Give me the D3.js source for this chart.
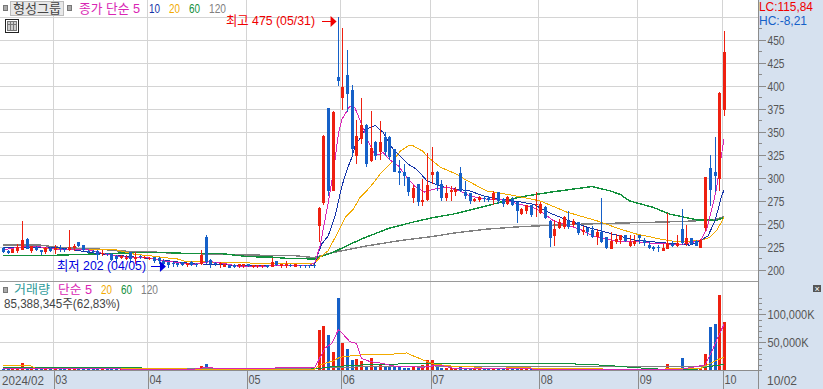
<!DOCTYPE html>
<html lang="ko">
<head>
<meta charset="utf-8">
<script src="https://cdn.jsdelivr.net/npm/d3@7"></script>
<style>
    html, body { margin: 0; padding: 0; background: #fff; overflow: hidden; }
    svg { display: block; }
    text { font-family: "Liberation Sans", "Noto Sans CJK KR", sans-serif; font-size: 13px; }
    .mark { shape-rendering: crispEdges; }
</style>
</head>
<body>
<div id="chart"></div>
<script>
// Daily candles. Index 0 is the first day on the chart.
const opens = [224,221,218,220.5,222,234,221,225.5,221.5,220,224,221.5,223.5,223,222,224,230,227,221,221,220.5,218,218,217.5,215.5,213,212,219.5,211.5,215,212.5,211.5,214,213,210,208.5,207.3,207.3,208.7,205,209,206,206,236,211,208,206.5,203.7,205,205.5,204,204.5,206,203.7,204,204,205,203.7,209.5,204.5,204.5,205.5,203.7,205,205,205,205,248,272.5,375.7,286.3,410,387,412,396,323.4,341.8,358,318,339.6,327.7,345,345,331,308,306,300.7,278,293,273.6,275.8,302.8,307,293,278,284.5,284.8,305,284.5,283.4,275,276,278,278,276,284.5,277,271.5,277,273.6,260.7,264,270.4,270.7,261.7,268,253.5,236.5,245.5,246.6,253.5,249,251.7,241.5,245.5,243.3,236,241,235.5,223,230.7,233,238,226.4,228,238,232.5,227,225.3,224.6,221,223,228,225.7,244.4,228,234.7,232,224.2,245.5,310.4,306,298.5,373.5];
const closes = [220,218,223,225,233,223,226,222,219.5,224,220.5,224,223,222,224.5,226,226,222,220.5,220.5,216,218.5,217,210.5,211.5,215,213,211.5,214,214,214,213,209.5,210,207,205,206,205,205.5,207.3,205.5,205,216,209,206,206,208,206,202.6,203,206,206,204.5,205,205,205,203.7,209,205,206,206,204,206,204,204.5,204,204.5,267,346,285.5,372,405.6,399,391.6,331,346,358,314.8,333,323.4,339.6,327.7,322.3,307,305,301.8,284.5,288.8,273.6,275.8,292,307,292,278,283.4,286.6,287.7,285.5,280,275,277.6,279,277,276,283.4,275,271.5,279,270.4,264,266,270.4,259.6,272,271.5,256.3,234.3,244.4,252.3,258,246.3,253,239.8,243,241,235.5,241.5,230,223.5,232,233.6,237.5,231,230,231,235,229.3,223.5,223,224,224,229.3,225.7,229.3,229,234.4,228,226.4,232.5,300.7,287,301.8,392.7,437];
const highs = [225.5,222,223,228,253.6,235,226.5,226,222,224.5,225,227,227,224,243,228,230.5,227.5,222,222,221.5,222,218.5,219,216.5,216,216,220,219.5,216,215,214,214.5,214,212,209,208.5,208,209,208,210,207.5,222,238,211.5,209,209,206.5,205.5,206,206.5,207,206.5,205.5,205.5,205.5,205.5,212.7,210,207,210,206,206.5,205.5,205.5,205.5,205.5,268,347,376.5,372.5,475,463,439,401,363.4,387,359,373,340,362,349.4,345.5,331.5,320,314.8,301,292,293.5,298.5,326.6,334,307.5,297.4,292,291,290,311.5,296.4,284,278,280.5,280.5,280.5,286,285,278,280,279,274,267,271,271,284.5,273.6,269,254,254,255,258.5,264,255,252,248,246,248,244.4,278,236,241,239,238.5,238.5,237.5,237.5,238.5,235,230.7,226,227,228,262,232,237.5,266,249,235,232.5,233.5,301,324.5,344,393,460];
const lows = [218,217,218,219,221.5,222.5,218.5,221,216,217,219.5,217.5,219.5,219.5,221,220.5,225,220.5,218.5,219,210.5,215.5,215.5,209.5,208,212,210.5,208,206,212,211.5,210.5,208,207,205,202,203,203,204.5,203.7,204,203,205.5,207,202.5,204.5,202.6,203,202.3,202.5,202,202,203.5,202,202,202,202.6,203,204.5,202.5,202.5,203,203.2,202.5,202.5,202.5,202.5,230,270.5,280,285.5,399.5,373.5,372,323.4,314.8,336.4,311.5,317,319,320,323.4,320,306.5,292,291,280,272.5,269.3,269.3,275,293,285.5,275,274.7,275,280.5,285,277,271.5,273.6,274,273.6,273.6,271,271.5,268,270.4,270,251,260,260.7,257.7,257.4,260.7,255,225,225.7,245,244.4,244.4,246.6,238,238,237,235,227,229.5,222.8,222.5,228,228,230.5,225,226.4,228,226.4,223,220.6,219.5,220.3,222.5,225,225,227,226.4,227,225.7,223.5,242.5,269.6,284.5,286,367.8];
const volumes = [3000,2500,2500,3000,13000,4700,3500,2500,2000,2500,2000,2500,2000,2000,2500,2000,2500,2000,1500,1500,2000,1500,1500,2000,1500,1500,1500,2000,1500,1500,1500,1500,1500,1500,1500,1500,1200,1200,1200,1200,1500,2000,7700,11000,4000,2500,2500,2000,2000,2000,1500,1500,1200,1200,1200,1200,1000,2000,2000,1200,1200,1000,1000,1000,1000,1000,1000,72000,79000,63000,32700,129000,48700,38000,18400,20000,16500,7700,22000,7700,10100,5950,5950,7700,5950,4760,4760,5950,4760,9500,18400,18400,5350,4160,4760,4160,3570,6500,3570,3000,3000,2500,2500,3000,2500,2500,2000,6000,2000,2500,2500,2000,2000,2000,2000,2500,3000,2500,2000,2000,2000,2000,2000,2000,2000,2000,2000,2500,2000,2000,1500,1500,1500,1500,1500,1500,1500,1500,1500,1500,2000,11000,2500,2500,22000,5000,3000,2500,3000,29000,77000,83000,134500,85388];

// Moving averages as [day index, price] points
const ma5 = [[0,222],[5,226],[8,225],[12,222],[18,222],[22,217],[26,214],[30,214],[34,210],[40,206],[44,209],[47,207],[50,204],[54,204],[60,205],[65,204.5],[66.2,208.4],[67.3,226.4],[69,273],[70.1,306],[71.2,349],[71.9,363.4],[73.6,378],[74.7,376],[76,360],[77.5,340],[79,324],[80.7,327.6],[82,320],[83.9,313],[85.7,300.7],[87.4,291],[89.5,284.5],[91.3,287.7],[94.2,290],[97,286],[99,280.5],[102.6,277],[105.5,277],[108,273.6],[112.5,268],[115,260.7],[116.8,253.5],[119.6,248.7],[122.4,244.4],[125.3,236.6],[128,233.6],[131,231],[134.5,230.6],[138,229],[141.5,228],[144.3,228],[148,232],[149.3,244],[150.4,266],[151.4,287.7],[152.3,320],[153,342]];
const ma10 = [[0,224],[12,224],[20,218],[30,213],[40,207],[50,205],[66,205],[67.6,228],[69,237],[70.5,259],[71.9,291],[73,309],[74,322],[74.7,334.6],[75.6,342],[76.8,352.6],[79,357],[80.7,349.4],[82.8,331],[85,320],[86,315],[87.8,309.3],[90,296.7],[92.8,291],[96.3,287.7],[99,286],[102,280.5],[105.5,277],[109.7,274],[112.5,271.5],[116,262],[119.6,254.5],[123.9,246.6],[128,241],[131,236.6],[134.5,232],[138,230.6],[141.5,229],[145.8,227],[148,232],[149.6,237],[151.1,253.5],[152.5,280.5],[153,287]];
const ma20 = [[8,224],[12,223],[20,222],[24,222],[28,217],[32,215],[34,213.6],[37,212],[39,208.7],[44,208.7],[50,208],[56,207],[66,206.5],[67.3,214],[69,221],[70.5,235.6],[72.6,257],[74.3,266],[75.8,279],[77.9,290],[80,304],[82.5,317],[84.3,329],[86,335],[87,335],[89.1,329],[90.3,322],[92.8,311.7],[96.3,304],[98,298.5],[102.6,286],[108.3,281],[114,275],[119.6,263],[126,253.5],[131,244.4],[134.5,239],[139.5,233.6],[143,230.6],[148,232],[150,235.4],[151.4,242.6],[153,257]];
const ma60 = [[0,216],[11,216],[29,219],[34,219],[39,218],[46,218],[52,214.5],[57,214],[60,212.7],[66,212],[70,219],[73.6,228],[77,235.6],[82,245.5],[87,252],[91.3,257],[95.5,260.7],[102.6,269.6],[109.7,279.4],[116.8,285],[125,290.7],[128.8,286],[131,282],[133,275],[138,268],[141.5,260.7],[147.2,254.5],[151.4,254],[153,257]];
const ma120 = [[0,227],[8,227],[12,224.5],[21,222.5],[25,220.5],[31,220],[35,218.5],[39,218],[47,217],[55,216],[62,215.5],[66,213.5],[70,219],[77,226],[84.3,232],[91.3,236.5],[95.5,240],[102.6,244.4],[109.7,247],[116.8,248.7],[123.9,250],[131,251],[144.3,252.7],[150.7,254.5],[153,258]];

const volMa5 = [[0,2500],[12,3000],[40,1500],[43,5000],[47,2500],[66.2,5350],[67.3,23200],[68.3,39300],[69.8,48200],[71.2,73200],[73.6,51200],[75,48200],[76.1,21400],[77.9,15500],[80.4,12500],[82.9,7700],[89.2,5350],[92.7,9500],[95.6,3570],[102,3000],[120,1800],[144,1800],[146,5000],[149,9500],[150.4,33000],[151.6,57000],[153,82000]];
const volMa20 = [[0,7700],[6,7700],[7,3000],[24,3000],[50,1800],[66,1800],[67.3,9500],[70,16700],[71.5,23200],[74.3,26200],[77.5,28600],[84.3,29200],[85.7,31000],[87.1,25600],[89.2,18400],[91.3,11300],[94.9,7700],[99.4,6500],[102.6,3000],[109.4,4760],[116.5,3000],[135,1800],[148,3000],[149,7700],[151.5,18400],[153,23200]];
const volMa60 = [[0,5350],[29,5350],[30,2000],[63,2000],[66,2400],[70,6500],[77,10000],[87.5,11900],[118,12500],[128,8900],[134,4760],[140,1800],[147,1800],[149,5350],[153,10700]];
const volMa120 = [[0,3500],[66,3000],[70,5350],[91,7700],[118,6500],[149,6500],[153,10000]];

const monthTicks = [11, 31, 52, 72, 91, 114, 135, 153];
const monthLabels = ["03", "04", "05", "06", "07", "08", "09", "10"];
const priceTicks = [200, 225, 250, 275, 300, 325, 350, 375, 400, 425, 450];
const priceGrid = [200, 225, 250, 275, 300, 325, 350, 375, 400, 425, 450, 475];
const volumeTicks = [50000, 100000];
const maColors = {ma5: "#d926b4", ma10: "#1433a8", ma20: "#f2aa00", ma60: "#12903c", ma120: "#808080"};

const UP_COLOR = "#ee2010";
const DOWN_COLOR = "#1560c8";
const GRID_COLOR = "#d4d4d4";
const PANEL_COLOR = "#d6e1ef";
const AXIS_X = 758.5;

function drawChart() {
    var svg = d3.select("#chart").append("svg").attr("width", 823).attr("height", 389);

    var x = d3.scaleLinear().domain([0, 153]).range([3, 724]);
    var yPrice = d3.scaleLinear().domain([200, 475]).range([270, 16.9]);
    var yVolume = d3.scaleLinear().domain([0, 100000]).range([370.3, 314.3]);
    var gridOffset = -2;

    function px(i) { return Math.round(x(i)); }

    // Panels on the right and bottom
    svg.append("rect").attr("x", AXIS_X).attr("y", 0).attr("width", 823 - AXIS_X).attr("height", 389).attr("fill", PANEL_COLOR);
    svg.append("rect").attr("x", 0).attr("y", 371).attr("width", 823).attr("height", 18).attr("fill", PANEL_COLOR);

    // Horizontal grid
    svg.append("g").attr("class", "mark")
        .attr("transform", "translate(" + AXIS_X + ",0)")
        .call(d3.axisLeft(yPrice).tickValues(priceGrid).tickSize(AXIS_X).tickFormat(""))
        .call(function (g) {
            g.select(".domain").remove();
            g.selectAll("line").attr("stroke", GRID_COLOR);
        });
    svg.append("g").attr("class", "mark")
        .attr("transform", "translate(" + AXIS_X + ",0)")
        .call(d3.axisLeft(yVolume).tickValues(volumeTicks).tickSize(AXIS_X).tickFormat(""))
        .call(function (g) {
            g.select(".domain").remove();
            g.selectAll("line").attr("stroke", GRID_COLOR);
        });

    // Vertical grid and month labels
    var monthAxis = d3.axisBottom(x)
        .tickValues(monthTicks)
        .tickSize(18)
        .tickFormat(function (d, i) { return monthLabels[i]; });
    svg.append("g").attr("class", "mark")
        .attr("transform", "translate(" + gridOffset + ",0)")
        .selectAll("line").data(monthTicks).join("line")
        .attr("x1", function (d) { return Math.round(x(d)) + 0.5; })
        .attr("x2", function (d) { return Math.round(x(d)) + 0.5; })
        .attr("y1", 0).attr("y2", 371)
        .attr("stroke", GRID_COLOR);
    svg.append("g")
        .attr("transform", "translate(" + gridOffset + ",371)")
        .call(monthAxis)
        .call(function (g) {
            g.select(".domain").remove();
            g.selectAll("line").attr("stroke", "#8c8c8c").attr("class", "mark")
                .attr("transform", function (d) { return "translate(" + (Math.round(x(d)) + 0.5 - x(d)) + ",0)"; });
            g.selectAll("text").attr("fill", "#555").attr("text-anchor", "start")
                .attr("x", 2).attr("y", 3).attr("dy", "0.75em")
                .attr("textLength", 12).attr("lengthAdjust", "spacingAndGlyphs");
        });

    // Moving averages under the candles
    var priceLine = d3.line().x(function (d) { return x(d[0]); }).y(function (d) { return yPrice(d[1]); });
    var priceSeries = [[ma120, maColors.ma120, 1.4], [ma60, maColors.ma60, 1.4], [ma20, maColors.ma20, 1], [ma10, maColors.ma10, 1], [ma5, maColors.ma5, 1]];
    priceSeries.forEach(function (s) {
        svg.append("path").datum(s[0]).attr("class", "mark")
            .attr("d", priceLine).attr("fill", "none")
            .attr("stroke", s[1]).attr("stroke-width", s[2]);
    });

    // Candles
    var days = d3.range(closes.length);
    function dayColor(i) { return closes[i] >= opens[i] ? UP_COLOR : DOWN_COLOR; }
    var candles = svg.append("g").attr("class", "mark");
    candles.selectAll("line").data(days).join("line")
        .attr("x1", function (i) { return px(i) + 0.5; })
        .attr("x2", function (i) { return px(i) + 0.5; })
        .attr("y1", function (i) { return yPrice(highs[i]); })
        .attr("y2", function (i) { return yPrice(lows[i]); })
        .attr("stroke", dayColor);
    candles.selectAll("rect").data(days).join("rect")
        .attr("x", function (i) { return px(i) - 1; })
        .attr("width", 3)
        .attr("y", function (i) { return yPrice(Math.max(opens[i], closes[i])); })
        .attr("height", function (i) { return Math.max(1, Math.abs(yPrice(opens[i]) - yPrice(closes[i]))); })
        .attr("fill", dayColor);

    // Separators between panels
    svg.append("line").attr("class", "mark").attr("x1", 0).attr("x2", AXIS_X).attr("y1", 281.5).attr("y2", 281.5).attr("stroke", "#9a9a9a");
    svg.append("line").attr("class", "mark").attr("x1", 0).attr("x2", AXIS_X).attr("y1", 370.5).attr("y2", 370.5).attr("stroke", "#8c8c8c");
    svg.append("line").attr("class", "mark").attr("x1", AXIS_X).attr("x2", AXIS_X).attr("y1", 0).attr("y2", 389).attr("stroke", "#8c8c8c");

    // Volume bars with their averages on top
    svg.append("g").attr("class", "mark").selectAll("rect").data(days).join("rect")
        .attr("x", function (i) { return px(i) - 1; })
        .attr("width", 3)
        .attr("y", function (i) { return yVolume(volumes[i]); })
        .attr("height", function (i) { return yVolume(0) - yVolume(volumes[i]); })
        .attr("fill", dayColor);
    var volumeLine = d3.line().x(function (d) { return x(d[0]); }).y(function (d) { return yVolume(d[1]); });
    [[volMa120, maColors.ma120], [volMa60, maColors.ma60], [volMa20, maColors.ma20], [volMa5, maColors.ma5]].forEach(function (s) {
        svg.append("path").datum(s[0]).attr("class", "mark")
            .attr("d", volumeLine).attr("fill", "none")
            .attr("stroke", s[1]).attr("stroke-width", 1);
    });

    // Right axes
    svg.append("g").attr("transform", "translate(" + AXIS_X + ",0)")
        .call(d3.axisRight(yPrice).tickValues(priceTicks).tickSize(7).tickPadding(2))
        .call(styleAxis)
        .call(function (g) { g.selectAll("text").attr("textLength", 17).attr("lengthAdjust", "spacingAndGlyphs"); });
    var minorPrice = d3.range(212.5, 475, 25);
    svg.append("g").attr("class", "mark").attr("transform", "translate(" + AXIS_X + ",0)")
        .call(d3.axisRight(yPrice).tickValues(minorPrice).tickSize(3).tickFormat(""))
        .call(function (g) { g.select(".domain").remove(); g.selectAll("line").attr("stroke", "#8c8c8c"); });
    svg.append("g").attr("transform", "translate(" + AXIS_X + ",0)")
        .call(d3.axisRight(yVolume).tickValues(volumeTicks).tickSize(7).tickPadding(2).tickFormat(function (d) { return d3.format(",")(d) + "K"; }))
        .call(styleAxis)
        .call(function (g) {
            g.selectAll("text").attr("lengthAdjust", "spacingAndGlyphs")
                .attr("textLength", function (d) { return d === 100000 ? 47 : 41; });
        });
    svg.append("g").attr("class", "mark").attr("transform", "translate(" + AXIS_X + ",0)")
        .call(d3.axisRight(yVolume).tickValues(d3.range(0, 140000, 10000)).tickSize(3).tickFormat(""))
        .call(function (g) { g.select(".domain").remove(); g.selectAll("line").attr("stroke", "#8c8c8c"); });

    function styleAxis(g) {
        g.select(".domain").remove();
        g.selectAll("line").attr("stroke", "#8c8c8c").attr("class", "mark");
        g.selectAll("text").attr("fill", "#555");
    }

    addLabels(svg, x);
}

// Text squeezed to the width it has in the picture
function label(svg, text, lx, ly, color, width, size) {
    return svg.append("text").attr("x", lx).attr("y", ly).attr("fill", color)
        .style("font-size", (size || 13) + "px")
        .attr("textLength", width).attr("lengthAdjust", "spacingAndGlyphs").text(text);
}

function addLabels(svg, x) {
    // Legend, price panel
    svg.append("rect").attr("class", "mark").attr("x", 3.5).attr("y", 5.5).attr("width", 4).attr("height", 5).attr("fill", "#aaa").attr("stroke", "#777");
    svg.append("rect").attr("class", "mark").attr("x", 10.5).attr("y", 1.5).attr("width", 53).attr("height", 14).attr("fill", "#e8e8e8").attr("stroke", "#bbb");
    label(svg, "형성그룹", 13, 13, "#444", 48);
    svg.append("rect").attr("class", "mark").attr("x", 67.5).attr("y", 5.5).attr("width", 4).attr("height", 5).attr("fill", "#aaa").attr("stroke", "#777");
    label(svg, "종가 단순 5", 79, 13, maColors.ma5, 61);
    label(svg, "10", 149, 13, maColors.ma10, 11);
    label(svg, "20", 169, 13, maColors.ma20, 11);
    label(svg, "60", 189, 13, maColors.ma60, 11);
    label(svg, "120", 209, 13, maColors.ma120, 17);

    // Table icon
    svg.append("rect").attr("class", "mark").attr("x", 5.5).attr("y", 19.5).attr("width", 13).attr("height", 13).attr("fill", "#fff").attr("stroke", "#222");
    svg.append("rect").attr("class", "mark").attr("x", 7.5).attr("y", 21.5).attr("width", 9).attr("height", 9).attr("fill", "#ccc").attr("stroke", "#777");
    svg.append("line").attr("class", "mark").attr("x1", 10.5).attr("x2", 10.5).attr("y1", 22).attr("y2", 30).attr("stroke", "#777");
    svg.append("line").attr("class", "mark").attr("x1", 13.5).attr("x2", 13.5).attr("y1", 22).attr("y2", 30).attr("stroke", "#777");
    svg.append("line").attr("class", "mark").attr("x1", 8).attr("x2", 16).attr("y1", 24.5).attr("y2", 24.5).attr("stroke", "#777");

    // High and low markers
    var highDay = highs.indexOf(d3.max(highs));
    var lowDay = lows.indexOf(d3.min(lows));
    label(svg, "최고 " + highs[highDay] + " (05/31)", 226, 25, "#f00000", 89);
    label(svg, "최저 " + lows[lowDay] + " (04/05)", 57, 270, "#0000e0", 89);
    drawArrow(svg, x(highDay) - 16, x(highDay) - 1, 21, "#f00000");
    drawArrow(svg, x(lowDay) - 17, x(lowDay) - 2, 266, "#0000e0");

    // Legend, volume panel
    svg.append("rect").attr("class", "mark").attr("x", 3.5).attr("y", 287.5).attr("width", 4).attr("height", 5).attr("fill", "#aaa").attr("stroke", "#777");
    label(svg, "거래량", 14, 294, "#2f9a9a", 36, 12);
    label(svg, "단순 5", 58, 294, maColors.ma5, 34, 12);
    label(svg, "20", 101, 294, maColors.ma20, 11, 12);
    label(svg, "60", 121, 294, maColors.ma60, 11, 12);
    label(svg, "120", 141, 294, maColors.ma120, 17, 12);
    label(svg, "85,388,345주(62,83%)", 4, 308, "#444", 116, 12);

    // Right panel readouts
    label(svg, "LC:115,84", 759, 11, "#f00000", 54, 12);
    label(svg, "HC:-8,21", 759, 25, "#1560c8", 48, 12);
    label(svg, "2024/02", 2, 385, "#555", 42);
    label(svg, "10/02", 767, 385, "#555", 30);

    // Panel close button
    svg.append("rect").attr("class", "mark").attr("x", 813).attr("y", 285).attr("width", 8).attr("height", 7).attr("fill", "#555");
    svg.append("text").attr("x", 814.5).attr("y", 291.5).attr("fill", "#fff").style("font-size", "9px").text("×");
}

function drawArrow(svg, x1, x2, y, color) {
    svg.append("line").attr("class", "mark").attr("x1", x1).attr("x2", x2 - 5).attr("y1", y + 0.5).attr("y2", y + 0.5).attr("stroke", color);
    svg.append("path")
        .attr("d", d3.line()([[x2 - 6, y - 5], [x2, y + 0.5], [x2 - 6, y + 6]]) + "Z")
        .attr("fill", color);
}

drawChart();
</script>
</body>
</html>
